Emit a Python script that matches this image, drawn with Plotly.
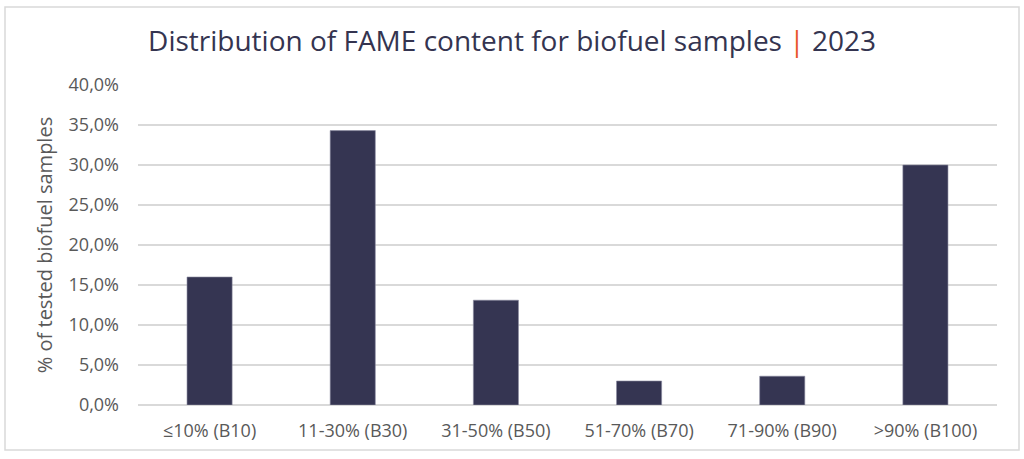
import plotly.graph_objects as go

categories = ["≤10% (B10)", "11-30% (B30)", "31-50% (B50)", "51-70% (B70)", "71-90% (B90)", ">90% (B100)"]
values = [16.0, 34.3, 13.1, 3.0, 3.6, 30.0]
tick_vals = [0, 5, 10, 15, 20, 25, 30, 35, 40]
tick_text = ["0,0%", "5,0%", "10,0%", "15,0%", "20,0%", "25,0%", "30,0%", "35,0%", "40,0%"]

W, H = 1024, 459
L, R, T, B = 138, 27, 85, 54
FONT = "Open Sans"

fig = go.Figure(go.Bar(
    x=categories, y=values,
    marker=dict(color="#353552", line=dict(color="#8a8aa0", width=0.6)),
    width=0.315,
    hoverinfo="skip",
))

pw, ph = W - L - R, H - T - B
def px(x): return (x - L) / pw
def py(y): return (H - B - y) / ph

fig.update_layout(
    width=W, height=H,
    margin=dict(l=L, r=R, t=T, b=B),
    paper_bgcolor="white", plot_bgcolor="white",
    showlegend=False,
    title=dict(
        text="Distribution of FAME content for biofuel samples <span style='color:#E8562A'>|</span> 2023",
        x=0.5, xanchor="center", y=1 - 41 / H, yanchor="middle",
        font=dict(family=FONT, size=28, color="#343450"),
    ),
    xaxis=dict(
        showgrid=False, showline=False, ticks="",
        ticklabelstandoff=13,
        tickfont=dict(family=FONT, size=18, color="#595959"),
    ),
    yaxis=dict(
        range=[0, 40], tickvals=tick_vals, ticktext=tick_text,
        showgrid=True, gridcolor="#d9d9d9", gridwidth=1.5,
        zeroline=True, zerolinecolor="#d9d9d9", zerolinewidth=1.5,
        showline=False, ticks="",
        ticklabelstandoff=18,
        tickfont=dict(family=FONT, size=18, color="#595959"),
        title=dict(text="% of tested biofuel samples", standoff=10,
                   font=dict(family=FONT, size=20, color="#595959")),
    ),
    shapes=[dict(
        type="rect", xref="paper", yref="paper",
        x0=px(5), x1=px(1019), y0=py(450), y1=py(7),
        line=dict(color="#d9d9d9", width=1.5), layer="below",
    )],
)

fig.write_html("out.html", config={"displayModeBar": False},
               post_script="document.body.style.margin='0';document.body.style.overflow='hidden';")
